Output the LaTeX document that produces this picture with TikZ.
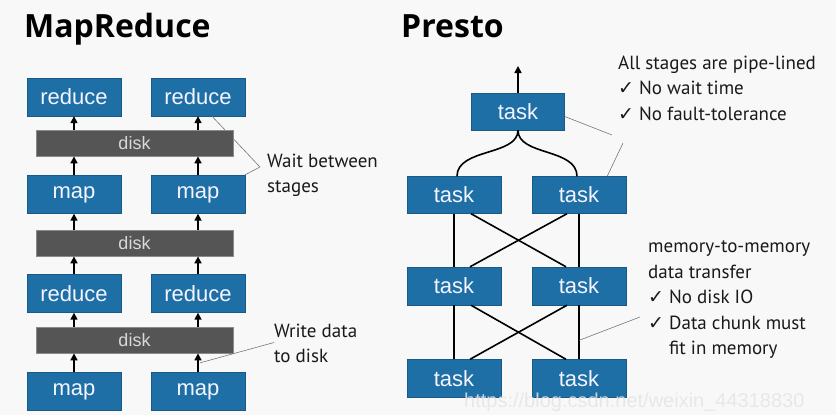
\documentclass[tikz,border=0pt]{standalone}
\usepackage{fontspec}
\setmainfont{PT Sans}
\newfontfamily\boxfont{Liberation Sans}
\newfontfamily\titlefont{Open Sans}
\newfontfamily\symfont{DejaVu Sans}
\usepackage{xcolor}
\definecolor{taskblue}{HTML}{1E6FA6}
\definecolor{diskgray}{HTML}{555555}
\definecolor{diskedge}{HTML}{8A8A8A}
\definecolor{bgpaper}{HTML}{F8F8F8}
\definecolor{notegray}{HTML}{777777}
\usetikzlibrary{arrows.meta, positioning, calc}
\newcommand{\chk}{{\symfont\bfseries\fontsize{19}{19}\selectfont ✓}}

\begin{document}
\begin{tikzpicture}[x=1pt, y=-1pt,
  stagebox/.style={rectangle, fill=taskblue, draw=taskblue!80!black, line width=0.4pt,
    minimum width=94pt, minimum height=38pt, inner sep=0pt,
    text=white!96!blue, font=\boxfont\fontsize{22}{22}\selectfont},
  diskbar/.style={rectangle, fill=diskgray, draw=diskedge, line width=0.8pt,
    minimum width=197pt, minimum height=26pt, inner sep=0pt,
    text=white!85!black, font=\boxfont\fontsize{18}{18}\selectfont},
  flow/.style={-{Triangle[length=7pt, width=7pt]}, line width=1.6pt, black},
  link/.style={line width=1.6pt, black},
  note/.style={font=\fontsize{19}{25.5}\selectfont, text=black!90, align=left, anchor=west, inner sep=0pt},
  heading/.style={anchor=base west, inner sep=0pt, font=\titlefont\bfseries\fontsize{32}{32}\selectfont},
  pointer/.style={line width=0.6pt, notegray}
]
\useasboundingbox[fill=bgpaper] (0,0) rectangle (836,415);

% Titles
\node[heading] (mrtitle) at (24,37) {MapReduce};
\node[heading] (prtitle) at (401,37) {Presto};

% MapReduce column
\node[stagebox] (r1) at (74,97)    {reduce};
\node[stagebox] (r2) at (198,97)   {reduce};
\node[stagebox] (m1) at (74,194.5) {map};
\node[stagebox] (m2) at (198,194.5){map};
\node[stagebox] (r3) at (74,293.5) {reduce};
\node[stagebox] (r4) at (198,293.5){reduce};
\node[stagebox] (m3) at (74,391.5) {map};
\node[stagebox] (m4) at (198,391.5){map};

% Wait between stages (behind the disk)
\coordinate (waitpt) at (260,167);
\draw[pointer] ([xshift=14pt]r2.south) -- (waitpt) -- ([xshift=-1pt]m2.north east);

\node[diskbar] (d1) at (134.5,143) {disk};
\node[diskbar] (d2) at (134.5,243) {disk};
\node[diskbar] (d3) at (134.5,340) {disk};

% Stage arrows
\foreach \lo/\hi/\x in {m1/d1/74, m2/d1/198, m3/d3/74, m4/d3/198}{
  \draw[flow] (\lo.north) -- (\x,0 |- \hi.south);
}
\foreach \lo/\hi/\x in {d1/r1/74, d1/r2/198, d3/r3/74, d3/r4/198}{
  \draw[flow] (\x,0 |- \lo.north) -- (\hi.south);
}
\foreach \lo/\hi/\x in {r3/d2/74, r4/d2/198}{
  \draw[flow] (\lo.north) -- (\x,0 |- \hi.south);
}
\foreach \lo/\hi/\x in {d2/m1/74, d2/m2/198}{
  \draw[flow] (\x,0 |- \lo.north) -- (\hi.south);
}

\node[note] (waitnote) at (267,175.5) {Wait between\\stages};
\node[note] (writenote) at (274,343.5) {Write data\\to disk};
\coordinate (writept) at ($(m4.north)!0.5!(198,0 |- d3.south)$);
\draw[pointer] ([xshift=2pt]writept) -- ([yshift=1pt]writenote.west);

% Presto column
\node[stagebox, minimum width=93pt, minimum height=37pt] (t0) at (518,111.5) {task};
\node[stagebox, minimum height=37pt] (t1) at (454,195)   {task};
\node[stagebox, minimum height=37pt] (t2) at (579,195)   {task};
\node[stagebox] (t3) at (454,286)   {task};
\node[stagebox] (t4) at (579,286)   {task};
\node[stagebox] (t5) at (454,378.5) {task};
\node[stagebox] (t6) at (579,378.5) {task};

\coordinate (outpt) at (518,66);
\draw[flow] (t0.north) -- (outpt);
\draw[link] (t0.south) .. controls (518,156) and (457,148) .. ([xshift=3pt]t1.north);
\draw[link] (t0.south) .. controls (518,156) and (577,148) .. ([xshift=-2pt]t2.north);

\foreach \up/\dn/\upr/\dnr in {t1/t3/t2/t4, t3/t5/t4/t6}{
  \draw[link] (\up.south) -- (\dn.north);
  \draw[link] (\upr.south) -- (\dnr.north);
  \draw[link] ([xshift=17pt]\up.south) -- ([xshift=-13pt]\dnr.north);
  \draw[link] ([xshift=-12pt]\upr.south) -- ([xshift=16pt]\dn.north);
}

% Presto notes
\node[note] (pipenote) at (618,88) {All stages are pipe-lined\\\chk\ No wait time\\\chk\ No fault-tolerance};
\coordinate (pipeA) at (612,135);
\coordinate (pipeB) at (623,143);
\draw[pointer] ([yshift=-5pt]t0.east) -- (pipeA);
\draw[pointer] (pipeB) -- ([xshift=-19pt]t2.north east);

\node[note] (memnote) at (648,300) {memory-to-memory\\data transfer\\\chk\ No disk IO\\\chk\ Data chunk must\\\phantom{\chk\ }fit in memory};
\coordinate (mempt) at (640,317);
\coordinate (memfoot) at ($(t4.south)!0.65!(t6.north)$);
\draw[pointer] (memfoot) -- (mempt);

% Watermark
\node[anchor=west, inner sep=0pt, text=white!80!gray, opacity=0.85, font=\boxfont\fontsize{20}{20}\selectfont] (mark) at (464,402) {https://blog.csdn.net/weixin\_44318830};
\end{tikzpicture}
\end{document}
